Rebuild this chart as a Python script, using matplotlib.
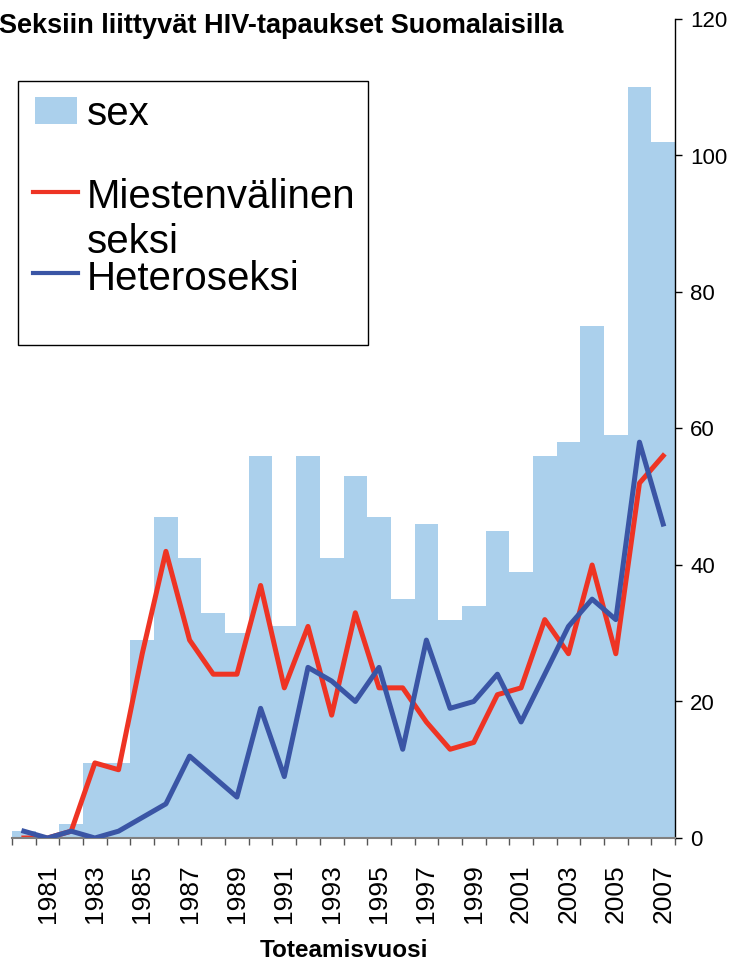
import matplotlib
matplotlib.use("Agg")
import matplotlib.pyplot as plt
from matplotlib.patches import Rectangle
from matplotlib.lines import Line2D
from matplotlib.ticker import FixedLocator

years = list(range(1980, 2008))
sex = [1, 0, 2, 11, 11, 29, 47, 41, 33, 30, 56, 31, 56, 41, 53, 47, 35, 46, 32, 34,
       45, 39, 56, 58, 75, 59, 110, 102]
miesten = [0, 0, 1, 11, 10, 27, 42, 29, 24, 24, 37, 22, 31, 18, 33, 22, 22, 17, 13, 14,
           21, 22, 32, 27, 40, 27, 52, 56]
hetero = [1, 0, 1, 0, 1, 3, 5, 12, 9, 6, 19, 9, 25, 23, 20, 25, 13, 29, 19, 20,
          24, 17, 24, 31, 35, 32, 58, 46]
labels = ["sex", "Miestenvälinen", "seksi", "Heteroseksi"]

bar_c = "#abd0ec"
red_c = "#ee3424"
blue_c = "#3a55a5"

plt.rcParams["font.family"] = ["Liberation Sans", "DejaVu Sans"]

W, H = 733, 963
fig = plt.figure(figsize=(W / 100, H / 100), dpi=100)

def fx(px):
    return px / W

def fy(py):
    return 1 - py / H

ax = fig.add_axes([fx(12), fy(838), fx(675) - fx(12), fy(19) - fy(838)])

x = list(range(len(years)))
ax.bar(x, sex, width=1.0, color=bar_c, linewidth=0, zorder=1)
ax.plot(x, miesten, color=red_c, lw=3.6, zorder=2)
ax.plot(x, hetero, color=blue_c, lw=3.6, zorder=3)

ax.set_xlim(-0.5, len(years) - 0.5)
ax.set_ylim(0, 120)

ax.yaxis.tick_right()
ax.set_yticks(range(0, 121, 20))
ax.tick_params(axis="y", labelsize=16, length=5, width=1, pad=6, direction="out")

ax.set_xticks(x[1::2])
ax.set_xticklabels([str(y) for y in years[1::2]], rotation=90)
ax.xaxis.set_minor_locator(FixedLocator([i - 0.5 for i in range(len(years) + 1)]))
ax.tick_params(axis="x", which="major", length=0, labelsize=19, pad=19)
ax.tick_params(axis="x", which="minor", length=5, width=1, color="#555555")

for s in ["top", "left"]:
    ax.spines[s].set_visible(False)
ax.spines["bottom"].set_color("#808080")
ax.spines["bottom"].set_linewidth(1.5)
ax.spines["right"].set_color("black")
ax.spines["right"].set_linewidth(1)

ax.set_xlabel("Toteamisvuosi", fontsize=17.5, fontweight="bold", labelpad=11)

fig.text(fx(-1), fy(33), "Seksiin liittyvät HIV-tapaukset Suomalaisilla",
         fontsize=19.5, fontweight="bold", va="baseline", ha="left")

# legend drawn by hand to keep the wrapped label overlap
fig.add_artist(Rectangle((fx(18), fy(345)), fx(368) - fx(18), fy(81) - fy(345),
                         transform=fig.transFigure, facecolor="white",
                         edgecolor="black", linewidth=1, zorder=5))
fig.add_artist(Rectangle((fx(35), fy(124)), fx(77) - fx(35), fy(97) - fy(124),
                         transform=fig.transFigure, facecolor=bar_c,
                         linewidth=0, zorder=6))
fig.add_artist(Line2D([fx(33), fx(78)], [fy(192), fy(192)], color=red_c, lw=3,
                      transform=fig.transFigure, zorder=6))
fig.add_artist(Line2D([fx(33), fx(78)], [fy(273), fy(273)], color=blue_c, lw=3,
                      transform=fig.transFigure, zorder=6))
fs = 29
fig.text(fx(87), fy(125), labels[0], fontsize=fs, va="baseline", zorder=7)
fig.text(fx(87), fy(208), labels[1], fontsize=fs, va="baseline", zorder=7)
fig.text(fx(87), fy(253), labels[2], fontsize=fs, va="baseline", zorder=7)
fig.text(fx(87), fy(290), labels[3], fontsize=fs, va="baseline", zorder=7)

fig.savefig("out.png", dpi=100)
